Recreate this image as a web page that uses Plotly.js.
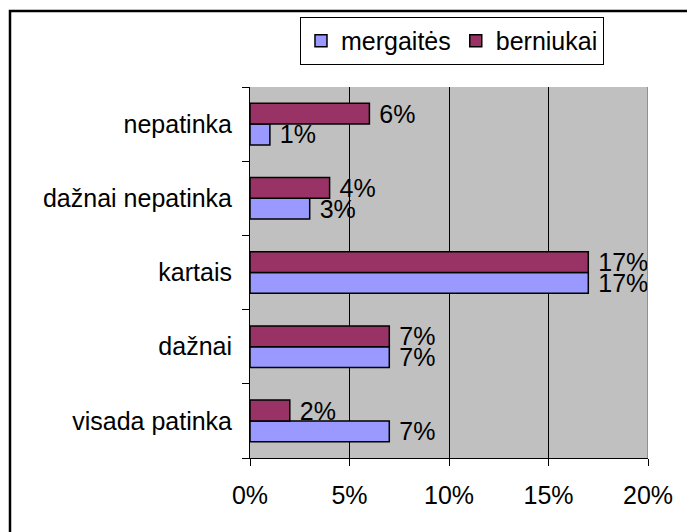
<!DOCTYPE html>
<html>
<head>
<meta charset="utf-8">
<script src="https://cdn.plot.ly/plotly-3.0.1.min.js"></script>
<style>
html,body{margin:0;padding:0;background:#fff;}
#chart{width:687px;height:532px;}
</style>
</head>
<body>
<div id="chart"></div>
<script>
var categories = ["visada patinka", "dažnai", "kartais", "dažnai nepatinka", "nepatinka"];
var mergaites = [7, 7, 17, 3, 1];
var berniukai = [2, 7, 17, 4, 6];
var xTickVals = [0, 5, 10, 15, 20];
var xTickText = ["0%", "5%", "10%", "15%", "20%"];

var font = {family: "Liberation Sans, Arial, sans-serif", size: 25, color: "#000"};

function pct(arr){ return arr.map(function(v){ return "\u00a0" + v + "%"; }); }

var traces = [
  {
    type: "bar", orientation: "h", name: "mergaitės",
    y: categories, x: mergaites,
    text: pct(mergaites), textposition: "outside", cliponaxis: false,
    constraintext: "none",
    textfont: font,
    marker: {color: "#9999FF", line: {color: "#000", width: 1.5}},
    hoverinfo: "none"
  },
  {
    type: "bar", orientation: "h", name: "berniukai",
    y: categories, x: berniukai,
    text: pct(berniukai), textposition: "outside", cliponaxis: false,
    constraintext: "none",
    textfont: font,
    marker: {color: "#993366", line: {color: "#000", width: 1.5}},
    hoverinfo: "none"
  }
];

var layout = {
  width: 687, height: 532,
  margin: {l: 250, r: 39, t: 87, b: 74, pad: 0},
  paper_bgcolor: "#fff",
  plot_bgcolor: "#C0C0C0",
  font: font,
  barmode: "group",
  bargap: 0.44,
  bargroupgap: 0,
  showlegend: true,
  legend: {
    orientation: "h",
    x: 0.1256, y: 1.189, xanchor: "left", yanchor: "top",
    bordercolor: "#000", borderwidth: 1, bgcolor: "#fff",
    font: font,
    traceorder: "normal",
    itemwidth: 30
  },
  xaxis: {
    range: [0, 20], tickvals: xTickVals, ticktext: xTickText,
    showgrid: true, gridcolor: "#000", gridwidth: 1,
    showline: true, linecolor: "#000", linewidth: 1,
    ticks: "outside", ticklen: 7, tickcolor: "#000",
    ticklabelstandoff: 8,
    zeroline: false, fixedrange: true,
    tickfont: font
  },
  yaxis: {
    type: "category", categoryorder: "array", categoryarray: categories,
    showline: true, linecolor: "#000", linewidth: 1,
    ticks: "outside", ticklen: 7, tickcolor: "#000", tickson: "boundaries",
    showgrid: false,
    ticklabelstandoff: 12,
    fixedrange: true,
    tickfont: font
  },
  shapes: [
    {type: "line", xref: "x", yref: "paper", x0: 20, x1: 20, y0: 0, y1: 1,
     line: {color: "#808080", width: 1.5}},
    {type: "rect", xref: "paper", yref: "paper",
     x0: (10 - 250) / 398, x1: (700 - 250) / 398,
     y0: (458 - 545) / 371, y1: (458 - 11) / 371,
     line: {color: "#000", width: 2.5}, layer: "above"}
  ]
};

Plotly.newPlot("chart", traces, layout, {displayModeBar: false, staticPlot: true});
</script>
</body>
</html>
